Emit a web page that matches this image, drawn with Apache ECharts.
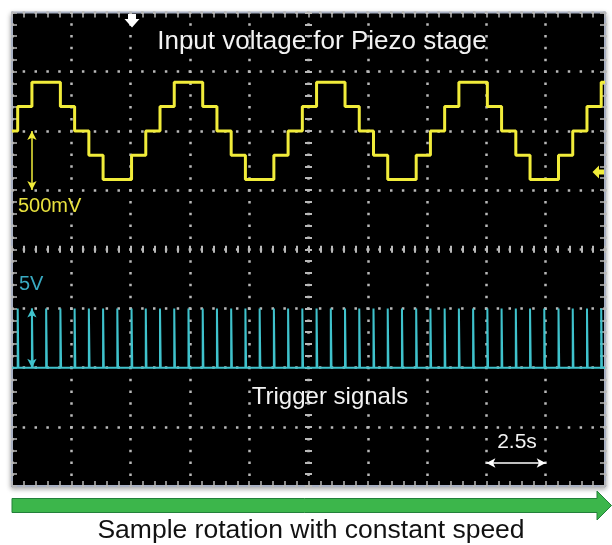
<!DOCTYPE html>
<html><head><meta charset="utf-8">
<script src="https://cdn.jsdelivr.net/npm/echarts@6/dist/echarts.min.js"></script>
<style>html,body{margin:0;padding:0;background:#fff}#c{width:612px;height:545px}</style>
</head><body><div id="c"></div>
<script>
// ---- data ----
// time axis: 10 divisions, 2.5 s / div
const timeRange_s = [0, 25];
const timeDiv_s = 2.5;
// trigger pulse instants (s)
const pulseTimes_s = [0.24, 0.84, 1.44, 2.04, 2.64, 3.24, 3.84, 4.44, 5.04, 5.64,
  6.24, 6.84, 7.44, 8.04, 8.64, 9.24, 9.84, 10.44, 11.04, 11.64,
  12.24, 12.84, 13.44, 14.04, 14.64, 15.24, 15.84, 16.44, 17.04, 17.64,
  18.24, 18.84, 19.44, 20.04, 20.64, 21.24, 21.84, 22.44, 23.04, 23.64,
  24.24, 24.84];
const pulseLow_V = 0;
const pulseHigh_V = 5;
const pulseWidth_s = 0.03;
// piezo input voltage staircase: level (mV) held from each step time
const stepTimes_s = [0, 0.24, 0.84, 1.44, 2.04, 2.64, 3.24, 3.84, 4.44, 5.04, 5.64,
  6.24, 6.84, 7.44, 8.04, 8.64, 9.24, 9.84, 10.44, 11.04, 11.64,
  12.24, 12.84, 13.44, 14.04, 14.64, 15.24, 15.84, 16.44, 17.04, 17.64,
  18.24, 18.84, 19.44, 20.04, 20.64, 21.24, 21.84, 22.44, 23.04, 23.64,
  24.24, 24.84];
const stepLevels_mV = [0,
  205, 410, 410, 205, 0, -205, -410, -410, -205, 0,
  205, 410, 410, 205, 0, -205, -410, -410, -205, 0,
  205, 410, 410, 205, 0, -205, -410, -410, -205, 0,
  205, 410, 410, 205, 0, -205, -410, -410, -205, 0,
  205, 410];
// channel scales (8 vertical divisions)
const ch1Range_mV = [-3000, 1000];   // 500 mV/div
const ch2Range_V = [-10, 30];        // 5 V/div
const divRangeY = [-4, 4];
const divRangeX = [-5, 5];
const scaleMarkTime_s = 0.84;
const timeMarker = [20, 22.5];
const timeMarkerLevel_V = -8.06;
const labels = {
  title: 'Input voltage for Piezo stage',
  ch1: '500mV', ch2: '5V', trig: 'Trigger signals', time: '2.5s',
  footer: 'Sample rotation with constant speed'
};

// ---- build series data ----
const piezoData = stepTimes_s.map((t, i) => [t, stepLevels_mV[i]]);
piezoData.push([timeRange_s[1], stepLevels_mV[stepLevels_mV.length - 1]]);
const trigData = [[timeRange_s[0], pulseLow_V]];
pulseTimes_s.forEach(t => {
  trigData.push([t, pulseLow_V], [t, pulseHigh_V], [t + pulseWidth_s, pulseHigh_V], [t + pulseWidth_s, pulseLow_V]);
});
trigData.push([timeRange_s[1], pulseLow_V]);

const GRID = '#b9b9b9';
const YEL = '#f1ec3a';
const CYA = '#3fc2cc';
const FONT = '"Liberation Sans", Arial, sans-serif';

function ax(extra) {
  return Object.assign({
    type: 'value',
    axisLine: { show: false, onZero: false },
    axisLabel: { show: false },
    splitLine: { show: false },
    axisTick: { show: true, inside: true, length: 5, lineStyle: { color: GRID, width: 1.5 } },
    minorTick: { show: true, splitNumber: 5, length: 5, lineStyle: { color: GRID, width: 1.5 } }
  }, extra);
}
const dots = { show: true, lineStyle: { color: GRID, width: 2.5, type: [2.5, 9.35], dashOffset: 1.2 } };
const ctick = { show: true, inside: true, length: 3.5, lineStyle: { color: GRID, width: 2 } };
const cminor = { show: true, splitNumber: 5, length: 3.5, lineStyle: { color: GRID, width: 2 } };

const chart = echarts.init(document.getElementById('c'), null, { renderer: 'canvas' });
chart.setOption({
  animation: false,
  backgroundColor: '#ffffff',
  grid: {
    left: 12, top: 12.5, right: 7, bottom: 59, show: true,
    backgroundColor: '#000', borderColor: '#a7afc2', borderWidth: 2,
    shadowColor: 'rgba(0,0,0,0.35)', shadowBlur: 5, shadowOffsetY: 2
  },
  xAxis: [
    ax({ min: timeRange_s[0], max: timeRange_s[1], interval: timeDiv_s, position: 'bottom', splitLine: dots }),
    ax({ min: timeRange_s[0], max: timeRange_s[1], interval: timeDiv_s, position: 'top' }),
    ax({ min: timeRange_s[0], max: timeRange_s[1], interval: timeDiv_s, position: 'bottom',
         axisLine: { show: false, onZero: true, onZeroAxisIndex: 0 }, axisTick: ctick, minorTick: cminor }),
    ax({ min: timeRange_s[0], max: timeRange_s[1], interval: timeDiv_s, position: 'top',
         axisLine: { show: false, onZero: true, onZeroAxisIndex: 0 }, axisTick: ctick, minorTick: cminor }),
    { type: 'value', min: divRangeX[0], max: divRangeX[1], show: false, axisLine: { onZero: false } }
  ],
  yAxis: [
    ax({ min: divRangeY[0], max: divRangeY[1], interval: 1, position: 'left', splitLine: dots }),
    ax({ min: divRangeY[0], max: divRangeY[1], interval: 1, position: 'right' }),
    { type: 'value', min: ch1Range_mV[0], max: ch1Range_mV[1], show: false, axisLine: { onZero: false } },
    { type: 'value', min: ch2Range_V[0], max: ch2Range_V[1], show: false, axisLine: { onZero: false } },
    ax({ min: divRangeY[0], max: divRangeY[1], interval: 1, position: 'left',
         axisLine: { show: false, onZero: true, onZeroAxisIndex: 4 }, axisTick: ctick, minorTick: cminor }),
    ax({ min: divRangeY[0], max: divRangeY[1], interval: 1, position: 'right',
         axisLine: { show: false, onZero: true, onZeroAxisIndex: 4 }, axisTick: ctick, minorTick: cminor })
  ],
  series: [
    {
      name: 'trigger', type: 'line', xAxisIndex: 0, yAxisIndex: 3, data: trigData,
      showSymbol: false, silent: true, z: 3,
      lineStyle: { color: CYA, width: 2 },
      markLine: {
        silent: true, symbol: ['arrow', 'arrow'], symbolSize: [7, 9], label: { show: false },
        data: [
          [{ coord: [scaleMarkTime_s, pulseLow_V], lineStyle: { color: CYA, width: 1.5, type: 'solid' } },
           { coord: [scaleMarkTime_s, pulseHigh_V] }],
          [{ coord: [timeMarker[0], timeMarkerLevel_V], lineStyle: { color: '#ffffff', width: 1.5, type: 'solid' } },
           { coord: [timeMarker[1], timeMarkerLevel_V] }]
        ]
      }
    },
    {
      name: 'piezo', type: 'line', xAxisIndex: 0, yAxisIndex: 2, data: piezoData, step: 'end',
      showSymbol: false, silent: true, z: 4,
      lineStyle: { color: YEL, width: 3 },
      markLine: {
        silent: true, symbol: ['arrow', 'arrow'], symbolSize: [7, 9], label: { show: false },
        data: [
          [{ coord: [scaleMarkTime_s, 0], lineStyle: { color: YEL, width: 1.5, type: 'solid' } },
           { coord: [scaleMarkTime_s, -500] }]
        ]
      }
    }
  ],
  graphic: [
    { type: 'text', x: 322, y: 42, z: 100, style: { text: labels.title, fill: '#f2f2f2', font: '26px ' + FONT, textAlign: 'center', textVerticalAlign: 'middle', align: 'center', verticalAlign: 'middle' } },
    { type: 'text', x: 18, y: 206, z: 100, style: { text: labels.ch1, fill: '#e9e23e', font: '20px ' + FONT, textAlign: 'left', textVerticalAlign: 'middle', align: 'left', verticalAlign: 'middle' } },
    { type: 'text', x: 19, y: 284, z: 100, style: { text: labels.ch2, fill: '#39aac2', font: '20px ' + FONT, textAlign: 'left', textVerticalAlign: 'middle', align: 'left', verticalAlign: 'middle' } },
    { type: 'text', x: 330, y: 397, z: 100, style: { text: labels.trig, fill: '#f2f2f2', font: '24px ' + FONT, textAlign: 'center', textVerticalAlign: 'middle', align: 'center', verticalAlign: 'middle' } },
    { type: 'text', x: 517, y: 442, z: 100, style: { text: labels.time, fill: '#f2f2f2', font: '21px ' + FONT, textAlign: 'center', textVerticalAlign: 'middle', align: 'center', verticalAlign: 'middle' } },
    { type: 'text', x: 311, y: 531, z: 100, style: { text: labels.footer, fill: '#111', font: '26.5px ' + FONT, textAlign: 'center', textVerticalAlign: 'middle', align: 'center', verticalAlign: 'middle' } },
    { type: 'polygon', z: 100, shape: { points: [[128, 14], [136, 14], [136, 19], [139.5, 19], [132, 27.5], [124.5, 19], [128, 19]] }, style: { fill: '#ffffff' } },
    { type: 'polygon', z: 100, shape: { points: [[592.5, 172], [599, 165.5], [599, 169.5], [604, 169.5], [604, 174.5], [599, 174.5], [599, 178.5]] }, style: { fill: YEL } },
    { type: 'polygon', z: 100, shape: { points: [[12, 498.5], [597, 498.5], [597, 491], [611.5, 505.5], [597, 520], [597, 512.5], [12, 512.5]] }, style: { fill: '#3cb64b', stroke: '#22803a', lineWidth: 1 } }
  ]
});
</script></body></html>
